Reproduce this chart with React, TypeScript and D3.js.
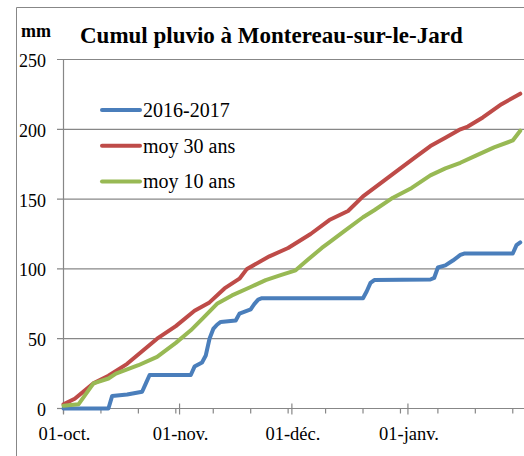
import React, { useEffect, useRef } from 'react';
import * as d3 from 'd3';

// axe des dates : du 1er octobre au 1er février
const startDate = new Date(2016, 9, 1);
const endDate = new Date(2017, 1, 1);

const yTicks = [0, 50, 100, 150, 200, 250];
const monthLabels = ['01-oct.', '01-nov.', '01-déc.', '01-janv.'];

const seriesNames = ['2016-2017', 'moy 30 ans', 'moy 10 ans'];
const seriesColors = ['#4a7ebb', '#be4b48', '#98b954'];

// jours depuis le 1er octobre / cumul en mm
const days2016 = [0, 12, 13, 17, 21, 22, 23, 34, 35, 37, 38, 39, 40, 41, 42, 46, 47, 50, 51, 52, 53, 80, 81, 82, 83, 98, 99, 100, 102, 104, 106, 107, 120, 121, 122];
const cumul2016 = [0, 0, 9, 10, 12, 18, 24, 24, 30, 33, 38, 50, 57, 60, 62, 63, 68, 71, 75, 78, 79, 79, 84, 90, 92, 92.4, 93.5, 101, 102.5, 106, 110, 111, 111, 117, 119];

const days30 = [0, 3, 8, 12, 17, 21, 25, 30, 35, 39, 43, 47, 49, 55, 60, 66, 71, 76, 80, 85, 89, 94, 98, 102, 106, 108, 112, 117, 122];
const cumul30 = [3, 7, 18, 23.5, 32, 41, 50, 59, 70, 76, 86, 93, 100, 109, 115, 125, 135, 141.5, 152, 162, 170, 180, 188, 194, 200, 202, 208.5, 218, 225.5];

const days10 = [0, 4, 8, 12, 14, 20, 25, 30, 34, 37, 41, 45, 50, 54, 58, 62, 65, 69, 71, 75, 80, 83, 88, 93, 98, 102, 106, 110, 115, 120, 122];
const cumul10 = [2, 3, 18, 21.5, 25, 31, 37, 47, 56, 64, 75, 81, 87, 92, 95.5, 99, 106, 115, 119, 127, 137, 142, 151, 158, 167, 172, 176, 181, 187, 192, 199];

const seriesDays = [days2016, days30, days10];
const seriesValues = [cumul2016, cumul30, cumul10];

const FONT = "'Liberation Serif', 'Times New Roman', 'DejaVu Serif', serif";

const App = () => {
  const ref = useRef<SVGSVGElement>(null);

  useEffect(() => {
    const svg = d3.select(ref.current);
    svg.selectAll('*').remove();

    const grey = '#878787';
    const x = d3.scaleTime().domain([startDate, endDate]).range([63.5, 524]);
    const y = d3.scaleLinear().domain([0, 250]).range([408.5, 59.5]);

    // cadre du graphique
    svg.append('path')
      .attr('d', 'M16.5,456 V7.5 H524')
      .attr('fill', 'none')
      .attr('stroke', grey)
      .attr('stroke-width', 1);

    // grille horizontale
    svg.append('g')
      .selectAll('line')
      .data(yTicks.filter(t => t > 0))
      .enter()
      .append('line')
      .attr('x1', 57)
      .attr('x2', 524)
      .attr('y1', d => y(d))
      .attr('y2', d => y(d))
      .attr('stroke', grey)
      .attr('stroke-width', 1.2);

    // axe Y
    svg.append('line')
      .attr('x1', 63.5).attr('x2', 63.5)
      .attr('y1', y(250)).attr('y2', y(0))
      .attr('stroke', grey).attr('stroke-width', 1.2);
    svg.append('line')
      .attr('x1', 57).attr('x2', 63.5)
      .attr('y1', y(0)).attr('y2', y(0))
      .attr('stroke', grey).attr('stroke-width', 1.2);
    svg.append('g')
      .selectAll('text')
      .data(yTicks)
      .enter()
      .append('text')
      .attr('x', 46)
      .attr('y', d => y(d) + 7.5)
      .attr('text-anchor', 'end')
      .style('font-family', FONT)
      .style('font-size', '18px')
      .attr('fill', '#000')
      .text(d => d);

    // axe X
    svg.append('line')
      .attr('x1', 63.5).attr('x2', 524)
      .attr('y1', y(0)).attr('y2', y(0))
      .attr('stroke', grey).attr('stroke-width', 1.2);

    const minorTicks = d3.range(0, 123, 10).map(k => d3.timeDay.offset(startDate, k));
    svg.append('g')
      .selectAll('line')
      .data(minorTicks)
      .enter()
      .append('line')
      .attr('x1', d => x(d)).attr('x2', d => x(d))
      .attr('y1', y(0)).attr('y2', y(0) + 5)
      .attr('stroke', grey).attr('stroke-width', 1.2);

    const months = d3.timeMonth.range(startDate, endDate);
    svg.append('g')
      .selectAll('line')
      .data(months)
      .enter()
      .append('line')
      .attr('x1', d => x(d)).attr('x2', d => x(d))
      .attr('y1', y(0) - 5).attr('y2', y(0) + 6)
      .attr('stroke', grey).attr('stroke-width', 1.2);

    svg.append('g')
      .selectAll('text')
      .data(months)
      .enter()
      .append('text')
      .attr('x', d => x(d) + 1)
      .attr('y', 440)
      .attr('text-anchor', 'middle')
      .style('font-family', FONT)
      .style('font-size', '18.5px')
      .attr('fill', '#000')
      .text((d, i) => monthLabels[i]);

    // courbes
    const line = d3.line<[number, number]>()
      .x(d => x(d3.timeDay.offset(startDate, d[0])))
      .y(d => y(d[1]));

    seriesDays.forEach((days, i) => {
      const pts = days.map((dd, j) => [dd, seriesValues[i][j]] as [number, number]);
      svg.append('path')
        .datum(pts)
        .attr('d', line)
        .attr('fill', 'none')
        .attr('stroke', seriesColors[i])
        .attr('stroke-width', 4)
        .attr('stroke-linejoin', 'round')
        .attr('stroke-linecap', 'round');
    });

    // légende
    const legend = svg.append('g')
      .selectAll('g')
      .data(seriesNames)
      .enter()
      .append('g')
      .attr('transform', (d, i) => 'translate(0,' + (110 + i * 35.8) + ')');
    legend.append('line')
      .attr('x1', 102).attr('x2', 140)
      .attr('stroke', (d, i) => seriesColors[i])
      .attr('stroke-width', 4)
      .attr('stroke-linecap', 'round');
    legend.append('text')
      .attr('x', 143)
      .attr('y', 6.8)
      .style('font-family', FONT)
      .style('font-size', '20px')
      .attr('fill', '#000')
      .text(d => d);

    // titres
    svg.append('text')
      .attr('x', 80)
      .attr('y', 43)
      .style('font-family', FONT)
      .style('font-weight', 'bold')
      .style('font-size', '23px')
      .attr('fill', '#000')
      .text('Cumul pluvio à Montereau-sur-le-Jard');
    svg.append('text')
      .attr('x', 21)
      .attr('y', 37)
      .style('font-family', FONT)
      .style('font-weight', 'bold')
      .style('font-size', '18px')
      .attr('fill', '#000')
      .text('mm');
  }, []);

  return (
    <svg
      ref={ref}
      width={524}
      height={456}
      style={{ position: 'absolute', left: 0, top: 0, background: '#fff' }}
    />
  );
};

export default App;
